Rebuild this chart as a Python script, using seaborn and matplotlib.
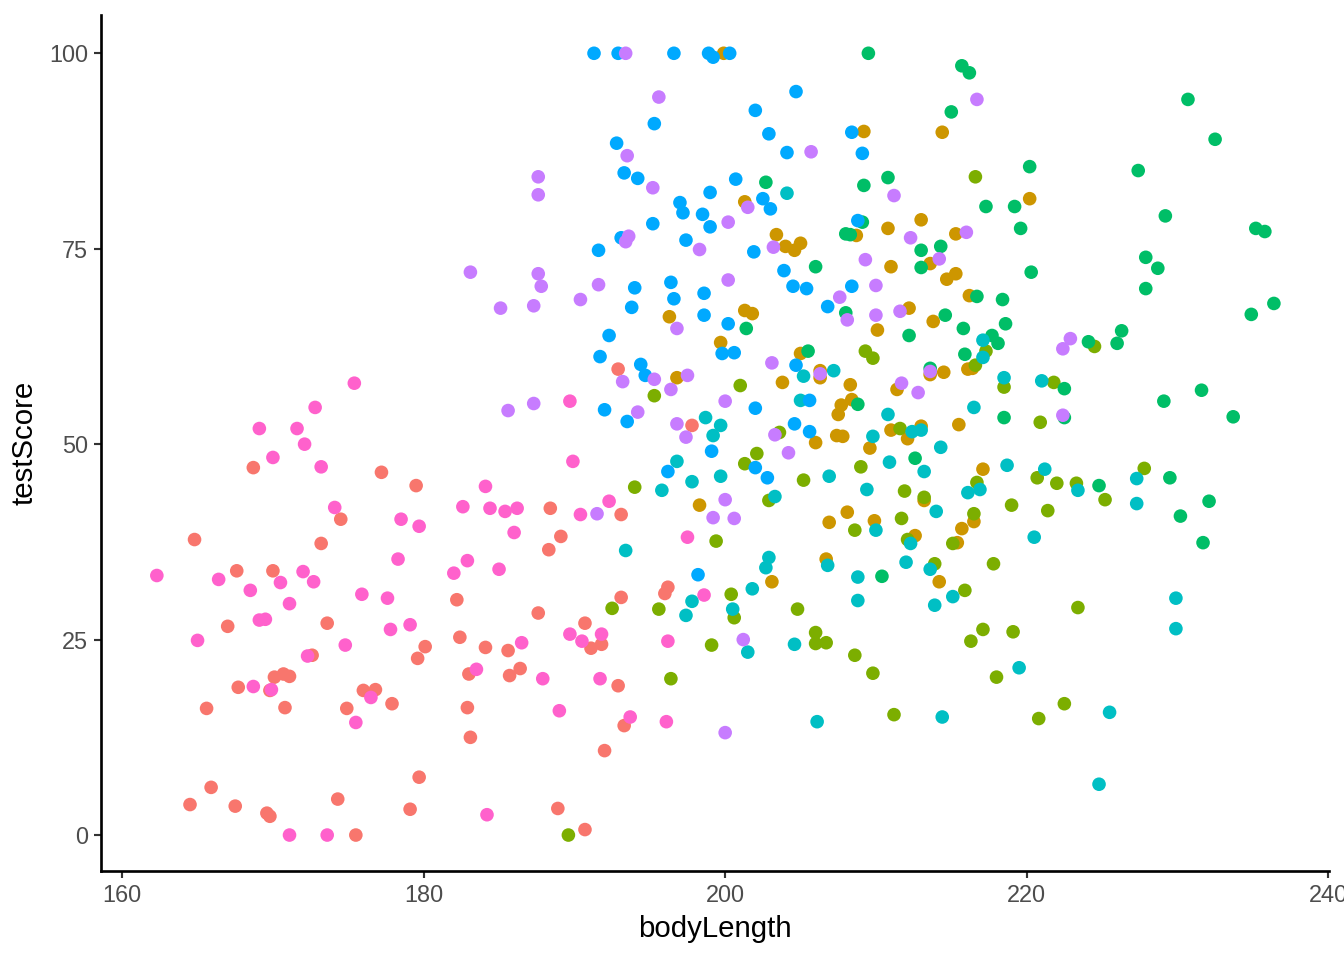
import matplotlib
matplotlib.use("Agg")
import matplotlib.pyplot as plt
import seaborn as sns
import pandas as pd

groups = ["A", "B", "C", "D", "E", "F", "G", "H"]
palette = ["#F8766D", "#CD9600", "#7CAE00", "#00BE67", "#00BFC4", "#00A9FF", "#C77CFF", "#FF61CC"]

red_x = [168.7, 177.2, 179.5, 174.5, 164.8, 173.2, 167.6, 170.0, 192.9, 197.8, 188.4, 193.1, 189.1, 188.3,
         196.2, 196.0, 193.1, 182.2, 167.0, 173.6, 180.1, 179.6, 172.6, 170.1, 170.7, 171.1, 167.7, 169.8,
         176.0, 176.8, 177.9, 165.6, 170.8, 174.9, 179.7, 165.9, 164.5, 167.5, 174.3, 179.1, 169.6, 169.8,
         175.5, 187.6, 190.7, 182.4, 184.1, 185.6, 191.1, 191.8, 183.0, 185.7, 186.4, 192.9, 182.9, 193.3,
         183.1, 192.0, 188.9, 190.7]
red_y = [47.0, 46.4, 44.7, 40.4, 37.8, 37.3, 33.8, 33.8, 59.6, 52.4, 41.8, 41.0, 38.2, 36.5,
         31.7, 30.9, 30.4, 30.1, 26.7, 27.1, 24.1, 22.6, 23.0, 20.2, 20.6, 20.3, 18.9, 18.5,
         18.5, 18.6, 16.8, 16.2, 16.3, 16.2, 7.4, 6.1, 3.9, 3.7, 4.6, 3.3, 2.8, 2.4,
         0.0, 28.4, 27.1, 25.3, 24.0, 23.6, 23.9, 24.4, 20.6, 20.4, 21.3, 19.1, 16.3, 14.0,
         12.5, 10.8, 3.4, 0.7]

gold_x = [196.3, 201.3, 201.3, 201.8, 199.9, 209.2, 214.4, 220.2, 213.0, 210.8, 208.7, 203.4, 215.3, 205.0,
          204.0, 204.6, 211.0, 213.6, 215.3, 214.7, 216.2, 212.2, 213.8, 210.1, 199.7, 196.8, 198.3, 205.0,
          206.3, 206.3, 203.8, 208.3, 213.6, 214.5, 216.1, 216.4, 211.4, 208.4, 207.7, 207.5, 215.5, 206.0,
          207.4, 207.8, 211.0, 213.0, 212.1, 209.6, 217.1, 213.2, 208.1, 216.5, 206.9, 209.9, 215.7, 212.6,
          215.4, 206.7, 203.1, 214.2]
gold_y = [66.3, 81.0, 67.1, 66.7, 100.0, 90.0, 89.9, 81.4, 78.7, 77.6, 76.7, 76.8, 76.9, 75.7,
          75.3, 74.8, 72.7, 73.1, 71.8, 71.1, 69.0, 67.4, 65.7, 64.6, 63.0, 58.5, 42.2, 61.6,
          59.4, 58.5, 57.9, 57.6, 58.9, 59.2, 59.6, 59.7, 57.0, 55.7, 55.0, 53.8, 52.5, 50.2,
          51.1, 51.0, 51.8, 52.3, 50.7, 49.5, 46.8, 42.8, 41.3, 40.1, 40.0, 40.2, 39.2, 38.3,
          37.4, 35.3, 32.4, 32.4]

olive_x = [216.6, 195.3, 201.0, 194.0, 199.4, 200.4, 192.5, 195.6, 200.6, 199.1, 196.4, 189.6, 209.3, 209.8,
           217.3, 216.6, 218.5, 220.9, 203.6, 211.6, 202.1, 201.3, 209.0, 220.7, 205.2, 211.9, 216.7, 202.9,
           213.2, 219.0, 216.5, 211.7, 208.6, 212.1, 215.1, 213.9, 217.8, 215.9, 224.5, 221.8, 222.0, 223.3,
           225.2, 227.8, 221.4, 204.8, 206.0, 206.0, 206.7, 208.6, 209.8, 217.1, 219.1, 216.3, 218.0, 211.2,
           220.8, 223.4, 222.5]
olive_y = [84.2, 56.2, 57.5, 44.5, 37.6, 30.8, 29.0, 28.9, 27.8, 24.3, 20.0, 0.0, 61.9, 61.0,
           61.9, 60.1, 57.3, 52.8, 51.5, 52.0, 48.8, 47.5, 47.1, 45.7, 45.4, 44.0, 45.1, 42.8,
           43.2, 42.2, 41.1, 40.5, 39.0, 37.8, 37.3, 34.7, 34.7, 31.3, 62.5, 57.9, 45.0, 45.0,
           42.9, 46.9, 41.5, 28.9, 25.9, 24.5, 24.6, 23.0, 20.7, 26.3, 26.0, 24.8, 20.2, 15.4,
           14.9, 29.1, 16.8]

green_x = [209.5, 215.7, 216.2, 215.0, 220.2, 210.8, 202.7, 209.2, 217.3, 219.2, 209.1, 219.6, 208.0, 208.3,
           213.0, 214.3, 213.0, 206.0, 220.3, 216.7, 218.4, 208.0, 214.6, 218.6, 215.8, 201.4, 230.7, 232.5,
           227.4, 229.2, 235.2, 235.8, 227.9, 228.7, 227.9, 236.4, 234.9, 226.3, 212.2, 217.7, 218.1, 205.5,
           215.9, 213.6, 208.8, 218.5, 212.6, 210.4, 224.1, 226.0, 222.5, 231.6, 229.1, 233.7, 222.5, 224.8,
           229.5, 232.1, 230.2, 231.7]
green_y = [100.0, 98.4, 97.5, 92.5, 85.5, 84.1, 83.5, 83.1, 80.4, 80.4, 78.4, 77.6, 76.9, 76.8,
           74.8, 75.3, 72.6, 72.7, 72.0, 68.9, 68.5, 66.8, 66.5, 65.4, 64.8, 64.8, 94.1, 89.0,
           85.0, 79.2, 77.6, 77.2, 73.9, 72.5, 69.9, 68.0, 66.6, 64.5, 63.9, 63.9, 62.9, 61.9,
           61.5, 59.7, 55.1, 53.4, 48.2, 33.1, 63.1, 62.9, 57.1, 56.9, 55.5, 53.5, 53.4, 44.7,
           45.7, 42.7, 40.8, 37.4]

teal_x = [204.1, 198.7, 199.7, 199.2, 196.8, 199.7, 197.8, 195.8, 193.4, 197.8, 197.4, 200.5, 217.1, 217.1,
          205.2, 207.2, 218.5, 221.0, 205.0, 210.8, 216.5, 212.4, 213.0, 209.8, 214.3, 210.9, 213.2, 218.7,
          221.2, 206.9, 209.4, 216.9, 216.1, 203.3, 214.0, 210.0, 212.3, 220.5, 202.9, 202.7, 206.8, 212.0,
          213.6, 201.8, 208.8, 215.1, 208.8, 213.9, 223.4, 227.3, 227.3, 229.9, 204.6, 201.5, 219.5, 206.1,
          214.4, 229.9, 225.5, 224.8]
teal_y = [82.1, 53.4, 52.4, 51.1, 47.8, 45.9, 45.2, 44.1, 36.4, 29.9, 28.1, 28.9, 63.3, 61.1,
          58.7, 59.4, 58.5, 58.1, 55.6, 53.8, 54.7, 51.6, 51.8, 51.0, 49.6, 47.7, 46.5, 47.3,
          46.8, 45.9, 44.2, 44.2, 43.8, 43.3, 41.4, 39.0, 37.3, 38.1, 35.5, 34.2, 34.5, 34.9,
          34.0, 31.5, 33.0, 30.5, 30.0, 29.4, 44.1, 45.6, 42.4, 30.3, 24.4, 23.4, 21.4, 14.5,
          15.1, 26.4, 15.7, 6.5]

blue_x = [191.3, 192.9, 196.6, 198.9, 199.2, 200.3, 195.3, 192.8, 193.3, 194.2, 200.7, 199.0, 197.0, 197.2,
          198.5, 199.0, 195.2, 193.1, 197.4, 191.6, 194.0, 196.4, 196.6, 198.6, 193.8, 198.6, 200.2, 204.7,
          202.0, 202.9, 208.4, 204.1, 209.1, 202.5, 203.0, 208.8, 201.9, 203.9, 204.5, 205.4, 208.4, 206.8,
          192.3, 199.8, 200.6, 191.7, 194.4, 194.7, 192.0, 193.5, 199.1, 196.2, 198.2, 204.7, 205.6, 202.0,
          204.6, 205.6, 202.0, 202.8]
blue_y = [100.0, 100.0, 100.0, 100.0, 99.5, 100.0, 91.0, 88.5, 84.7, 84.0, 83.9, 82.2, 80.9, 79.6,
          79.4, 77.8, 78.2, 76.4, 76.1, 74.8, 70.0, 70.7, 68.6, 69.3, 67.5, 66.5, 65.4, 95.1,
          92.7, 89.7, 89.9, 87.3, 87.2, 81.4, 80.1, 78.6, 74.6, 72.2, 70.2, 69.9, 70.2, 67.6,
          63.9, 61.6, 61.7, 61.2, 60.2, 58.8, 54.4, 52.9, 49.1, 46.5, 33.3, 60.1, 55.6, 54.6,
          52.6, 51.6, 47.0, 45.7]

purple_x = [193.4, 195.6, 193.5, 187.6, 187.6, 195.2, 200.2, 193.6, 193.4, 198.3, 183.1, 187.6, 187.8, 191.6,
            200.2, 190.4, 185.1, 187.3, 196.8, 201.5, 216.7, 205.7, 211.2, 216.0, 212.3, 203.2, 209.3, 214.2,
            210.0, 207.6, 208.1, 210.0, 211.6, 195.3, 197.5, 193.2, 196.4, 185.6, 187.3, 194.2, 200.0, 196.8,
            197.4, 191.5, 200.0, 199.2, 200.6, 203.1, 206.3, 213.6, 211.7, 212.8, 203.3, 204.2, 222.9, 222.4,
            222.4, 201.2, 200.0]
purple_y = [100.0, 94.4, 86.9, 84.2, 81.9, 82.8, 78.4, 76.6, 75.9, 74.9, 72.0, 71.8, 70.2, 70.4,
            71.0, 68.5, 67.4, 67.7, 64.8, 80.3, 94.1, 87.4, 81.8, 77.1, 76.4, 75.2, 73.6, 73.7,
            70.3, 68.8, 65.9, 66.5, 67.0, 58.3, 58.8, 58.0, 57.0, 54.3, 55.2, 54.1, 55.5, 52.6,
            50.9, 41.1, 42.9, 40.6, 40.5, 60.4, 59.0, 59.3, 57.8, 56.6, 51.2, 48.9, 63.5, 62.2,
            53.7, 25.0, 13.1]

pink_x = [175.4, 172.8, 169.1, 171.6, 172.1, 170.0, 173.2, 174.1, 178.5, 179.7, 178.3, 162.3, 166.4, 172.0,
          170.5, 172.7, 168.5, 175.9, 177.6, 171.1, 189.7, 189.9, 184.1, 182.6, 184.4, 185.4, 186.2, 192.3,
          190.4, 186.0, 197.5, 182.9, 185.0, 182.0, 198.6, 169.1, 169.5, 177.8, 179.1, 165.0, 174.8, 172.3,
          168.7, 169.9, 176.5, 175.5, 171.1, 173.6, 186.5, 189.7, 190.5, 191.8, 196.2, 183.5, 187.9, 191.7,
          189.0, 193.7, 196.1, 184.2]
pink_y = [57.8, 54.7, 52.0, 52.0, 50.0, 48.3, 47.1, 41.9, 40.4, 39.5, 35.3, 33.2, 32.7, 33.7,
          32.3, 32.4, 31.3, 30.8, 30.3, 29.6, 55.5, 47.8, 44.6, 42.0, 41.8, 41.4, 41.8, 42.7,
          41.0, 38.7, 38.1, 35.1, 34.0, 33.5, 30.7, 27.5, 27.6, 26.3, 26.9, 24.9, 24.3, 22.9,
          19.0, 18.6, 17.6, 14.4, 0.0, 0.0, 24.6, 25.7, 24.8, 25.7, 24.8, 21.2, 20.0, 20.0,
          15.9, 15.1, 14.5, 2.6]

xs = [red_x, gold_x, olive_x, green_x, teal_x, blue_x, purple_x, pink_x]
ys = [red_y, gold_y, olive_y, green_y, teal_y, blue_y, purple_y, pink_y]

frames = []
for g, gx, gy in zip(groups, xs, ys):
    frames.append(pd.DataFrame({"bodyLength": gx, "testScore": gy, "group": g}))
df = pd.concat(frames, ignore_index=True)

sns.set_theme(style="ticks")
plt.rcParams["font.family"] = ["Liberation Sans", "DejaVu Sans"]

fig = plt.figure(figsize=(7, 5), dpi=192)
ax = fig.add_axes([0.0752, 0.0927, 0.9138, 0.8917])

sns.scatterplot(data=df, x="bodyLength", y="testScore", hue="group",
                hue_order=groups, palette=palette, s=26, linewidth=0,
                legend=False, ax=ax)

ax.set_xlim(158.6, 240.07)
ax.set_ylim(-4.6, 104.9)
ax.set_xticks([160, 180, 200, 220, 240])
ax.set_yticks([0, 25, 50, 75, 100])
ax.tick_params(axis="both", labelsize=8.8, labelcolor="#4D4D4D", color="#333333",
               length=2.75, width=0.8, pad=2.2)
for side in ["top", "right"]:
    ax.spines[side].set_visible(False)
for side in ["left", "bottom"]:
    ax.spines[side].set_color("black")
    ax.spines[side].set_linewidth(1.0)
ax.set_xlabel("bodyLength", fontsize=11, color="black", labelpad=3)
ax.set_ylabel("testScore", fontsize=11, color="black", labelpad=4)
for lbl in ax.get_xticklabels():
    lbl.set_clip_on(False)

fig.savefig("out.png", dpi=192)
